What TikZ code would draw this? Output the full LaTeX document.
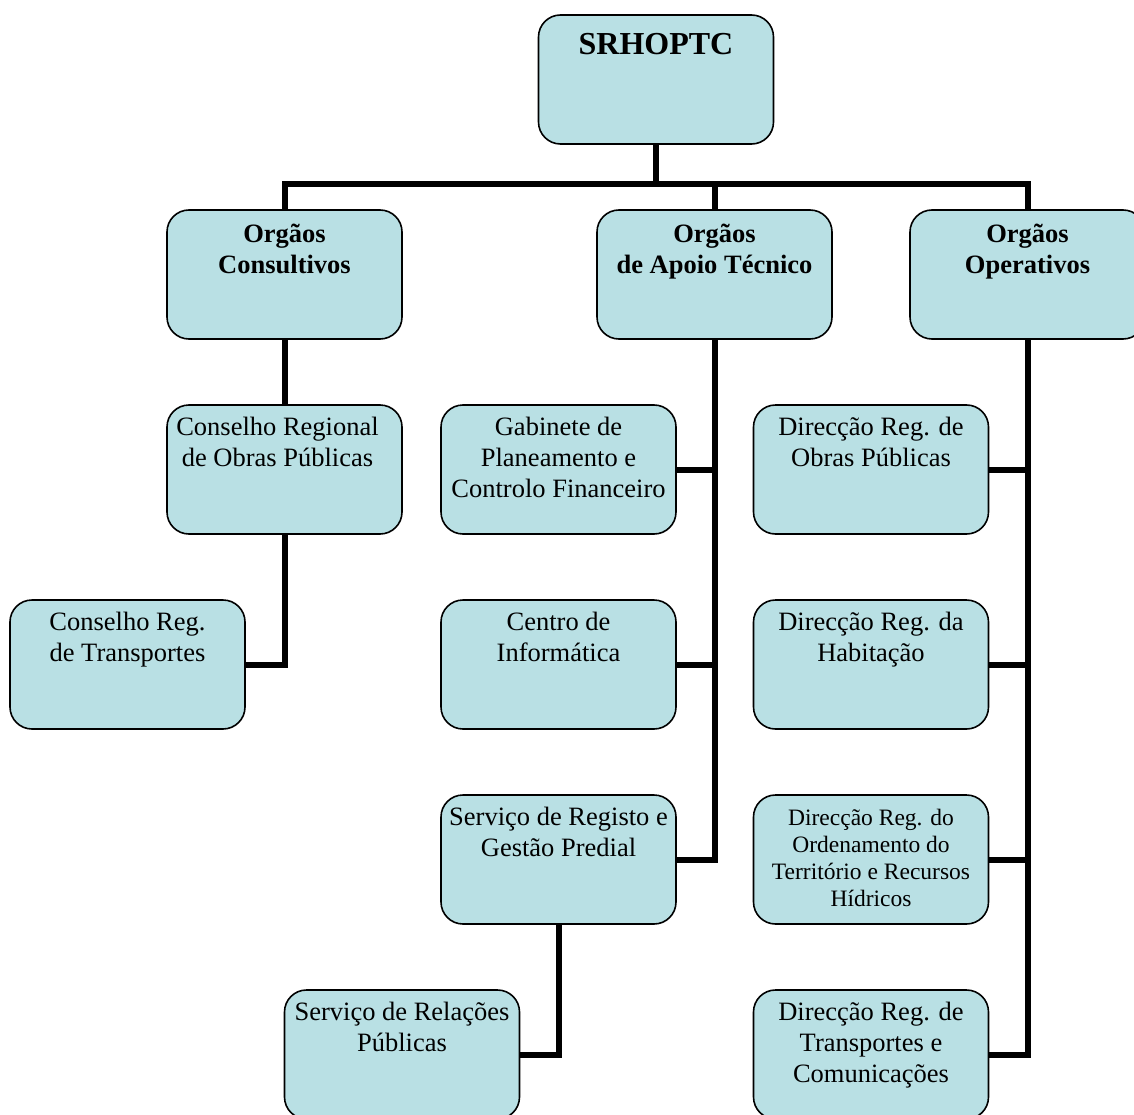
\documentclass[tikz,border=0pt]{standalone}
\usepackage{fontspec}
\setmainfont{Liberation Serif}
\definecolor{boxfill}{RGB}{185,224,228}
\newcommand\firstln[1]{\rule{0pt}{#1}}
\begin{document}
\begin{tikzpicture}[x=1pt,y=-1pt,
  box/.style={draw=black, line width=1.6pt, fill=boxfill, rounded corners=22pt,
    minimum width=235pt, minimum height=129pt, inner sep=0pt, outer sep=0pt},
  txt/.style={anchor=north, align=center, inner sep=0pt, font=\fontsize{26.5}{31}\selectfont},
  btxt/.style={txt, font=\fontsize{26.5}{31}\selectfont\bfseries},
  stxt/.style={txt, font=\fontsize{23.5}{27}\selectfont},
  conn/.style={line width=6pt, draw=black}]
\useasboundingbox (0,0) rectangle (1134,1115);
\clip (0,0) rectangle (1134,1115);
\fill[white] (0,0) rectangle (1134,1115);

% boxes
\node[box] (srh) at (656,79.5) {};
\node[box] (cons) at (284.5,274.5) {};
\node[box] (apoio) at (714.5,274.5) {};
\node[box] (oper) at (1027.5,274.5) {};
\node[box] (creg) at (284.5,469.5) {};
\node[box] (ctrans) at (127.5,664.5) {};
\node[box] (gab) at (558.5,469.5) {};
\node[box] (centro) at (558.5,664.5) {};
\node[box] (sreg) at (558.5,859.5) {};
\node[box] (srp) at (402,1054.5) {};
\node[box] (dobras) at (871,469.5) {};
\node[box] (dhab) at (871,664.5) {};
\node[box] (dord) at (871,859.5) {};
\node[box] (dtrans) at (871,1054.5) {};

% texts
\node[txt, font=\fontsize{32}{37}\selectfont\bfseries] (srh-t) at ([yshift=-10pt]srh.north) {\firstln{29pt}SRHOPTC};
\node[btxt] (cons-t) at ([yshift=-8pt]cons.north) {\firstln{24pt}Orgãos\\Consultivos};
\node[btxt] (apoio-t) at ([yshift=-8pt]apoio.north) {\firstln{24pt}Orgãos\\de Apoio Técnico};
\node[btxt] (oper-t) at ([yshift=-8pt]oper.north) {\firstln{24pt}Orgãos\\Operativos};
\node[txt] (creg-t) at ([yshift=-6pt,xshift=-7pt]creg.north) {\firstln{24pt}Conselho Regional\\de Obras Públicas};
\node[txt] (ctrans-t) at ([yshift=-6pt]ctrans.north) {\firstln{24pt}Conselho Reg.\\de Transportes};
\node[txt] (gab-t) at ([yshift=-6pt]gab.north) {\firstln{24pt}Gabinete de\\Planeamento e\\Controlo Financeiro};
\node[txt] (centro-t) at ([yshift=-6pt]centro.north) {\firstln{24pt}Centro de\\Informática};
\node[txt] (sreg-t) at ([yshift=-6pt]sreg.north) {\firstln{24pt}Serviço de Registo e\\Gestão Predial};
\node[txt] (srp-t) at ([yshift=-6pt]srp.north) {\firstln{24pt}Serviço de Relações\\Públicas};
\node[txt] (dobras-t) at ([yshift=-6pt]dobras.north) {\firstln{24pt}Direcção Reg. de\\Obras Públicas};
\node[txt] (dhab-t) at ([yshift=-6pt]dhab.north) {\firstln{24pt}Direcção Reg. da\\Habitação};
\node[stxt] (dord-t) at ([yshift=-9pt]dord.north) {\firstln{21pt}Direcção Reg. do\\Ordenamento do\\Território e Recursos\\Hídricos};
\node[txt] (dtrans-t) at ([yshift=-6pt]dtrans.north) {\firstln{24pt}Direcção Reg. de\\Transportes e\\Comunicações};

% connectors
\coordinate (bus) at (0,184);
\draw[conn] (srh.south) -- (srh.south |- bus);
\draw[conn] (cons.north) |- (oper.north |- bus) -- (oper.north);
\draw[conn] (apoio.north) -- (apoio.north |- bus);

\draw[conn] (cons.south) -- (creg.north);
\draw[conn] (creg.south) |- (ctrans.east);

\draw[conn] (apoio.south) |- (sreg.east);
\draw[conn] (gab.east) -- (gab.east -| apoio.south);
\draw[conn] (centro.east) -- (centro.east -| apoio.south);
\draw[conn] (sreg.south) |- (srp.east);

\draw[conn] (oper.south) |- (dtrans.east);
\draw[conn] (dobras.east) -- (dobras.east -| oper.south);
\draw[conn] (dhab.east) -- (dhab.east -| oper.south);
\draw[conn] (dord.east) -- (dord.east -| oper.south);
\end{tikzpicture}
\end{document}
